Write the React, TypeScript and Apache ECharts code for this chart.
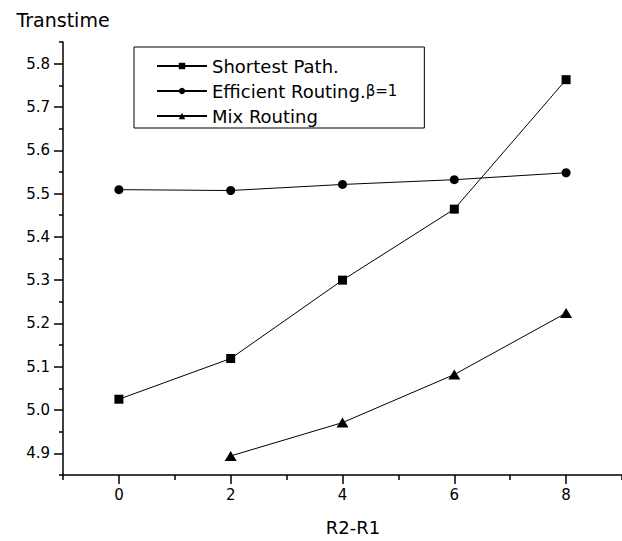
import React, { useEffect, useRef } from "react";
import * as echarts from "echarts";

const xValues = [0, 2, 4, 6, 8];
const shortestPath = [5.025, 5.119, 5.3, 5.464, 5.763];
const efficientRouting = [5.509, 5.507, 5.521, 5.532, 5.548];
const mixRouting: (number | null)[] = [null, 4.894, 4.971, 5.082, 5.224];

const seriesNames = ["Shortest Path.", "Efficient Routing.β=1", "Mix Routing"];

const yMajorTicks = [4.9, 5.0, 5.1, 5.2, 5.3, 5.4, 5.5, 5.6, 5.7, 5.8];
const yMinorTicks = [4.85, 4.95, 5.05, 5.15, 5.25, 5.35, 5.45, 5.55, 5.65, 5.75, 5.85];
const xMajorTicks = [0, 2, 4, 6, 8];
const xMinorTicks = [-1, 1, 3, 5, 7, 9];

const FONT = "DejaVu Sans";

function pairs(vals: (number | null)[]) {
  return xValues
    .map((x, i) => [x, vals[i]])
    .filter((p) => p[1] !== null && p[1] !== undefined);
}

export default function App() {
  const ref = useRef<HTMLDivElement>(null);
  useEffect(() => {
    if (!ref.current) return;
    const chart = echarts.init(ref.current, null, { renderer: "svg" });
    const axisLineStyle = { color: "#000", width: 1.5 };
    const lineStyle = { color: "#000", width: 1 };
    chart.setOption({
      animation: false,
      backgroundColor: "#fff",
      grid: { left: 63, top: 42, width: 567, height: 433 },
      legend: {
        orient: "vertical",
        left: 134,
        top: 47,
        itemWidth: 50,
        itemHeight: 8,
        itemGap: 7,
        padding: [10, 27, 3, 22],
        borderColor: "#000",
        borderWidth: 1,
        data: seriesNames,
        formatter: (name: string) =>
          name === seriesNames[1] ? "{a|Efficient Routing.}{b|β=1}" : name,
        textStyle: {
          fontFamily: FONT,
          fontSize: 18,
          color: "#000",
          rich: {
            a: { fontFamily: FONT, fontSize: 18, color: "#000" },
            b: { fontFamily: FONT, fontSize: 15, color: "#000" },
          },
        },
      },
      xAxis: [
        {
          type: "value",
          min: -1,
          max: 9,
          position: "bottom",
          name: "R2-R1",
          nameLocation: "middle",
          nameGap: 43,
          nameTextStyle: { fontFamily: FONT, fontSize: 18, color: "#000", padding: [0, 0, 0, 21] },
          axisLine: { show: true, onZero: false, lineStyle: axisLineStyle },
          axisTick: { show: true, inside: false, length: 9, lineStyle: axisLineStyle, customValues: xMajorTicks },
          axisLabel: {
            show: true,
            margin: 12,
            fontFamily: FONT,
            fontSize: 15,
            color: "#000",
            customValues: xMajorTicks,
          },
          splitLine: { show: false },
        },
        {
          type: "value",
          min: -1,
          max: 9,
          position: "bottom",
          offset: 0,
          axisLine: { show: false, onZero: false },
          axisTick: { show: true, inside: false, length: 5, lineStyle: axisLineStyle, customValues: xMinorTicks },
          axisLabel: { show: false },
          splitLine: { show: false },
        },
      ],
      yAxis: [
        {
          type: "value",
          min: 4.85,
          max: 5.85,
          position: "left",
          name: "Transtime",
          nameLocation: "end",
          nameGap: 13,
          nameTextStyle: { fontFamily: FONT, fontSize: 19, color: "#000" },
          axisLine: { show: true, onZero: false, lineStyle: axisLineStyle },
          axisTick: { show: true, inside: false, length: 9, lineStyle: axisLineStyle, customValues: yMajorTicks },
          axisLabel: {
            show: true,
            margin: 13,
            fontFamily: FONT,
            fontSize: 15,
            color: "#000",
            customValues: yMajorTicks,
            formatter: (v: number) => v.toFixed(1),
          },
          splitLine: { show: false },
        },
        {
          type: "value",
          min: 4.85,
          max: 5.85,
          position: "left",
          offset: 0,
          axisLine: { show: false, onZero: false },
          axisTick: { show: true, inside: false, length: 4, lineStyle: axisLineStyle, customValues: yMinorTicks },
          axisLabel: { show: false },
          splitLine: { show: false },
        },
      ],
      series: [
        {
          name: seriesNames[0],
          type: "line",
          data: pairs(shortestPath),
          symbol: "rect",
          symbolSize: 9,
          lineStyle,
          itemStyle: { color: "#000" },
        },
        {
          name: seriesNames[1],
          type: "line",
          data: pairs(efficientRouting),
          symbol: "circle",
          symbolSize: 9,
          lineStyle,
          itemStyle: { color: "#000" },
        },
        {
          name: seriesNames[2],
          type: "line",
          data: pairs(mixRouting),
          symbol: "triangle",
          symbolSize: [12, 10],
          lineStyle,
          itemStyle: { color: "#000" },
        },
      ],
    });
    return () => chart.dispose();
  }, []);
  return <div ref={ref} style={{ width: 622, height: 541, position: "absolute", left: 0, top: 0 }} />;
}
